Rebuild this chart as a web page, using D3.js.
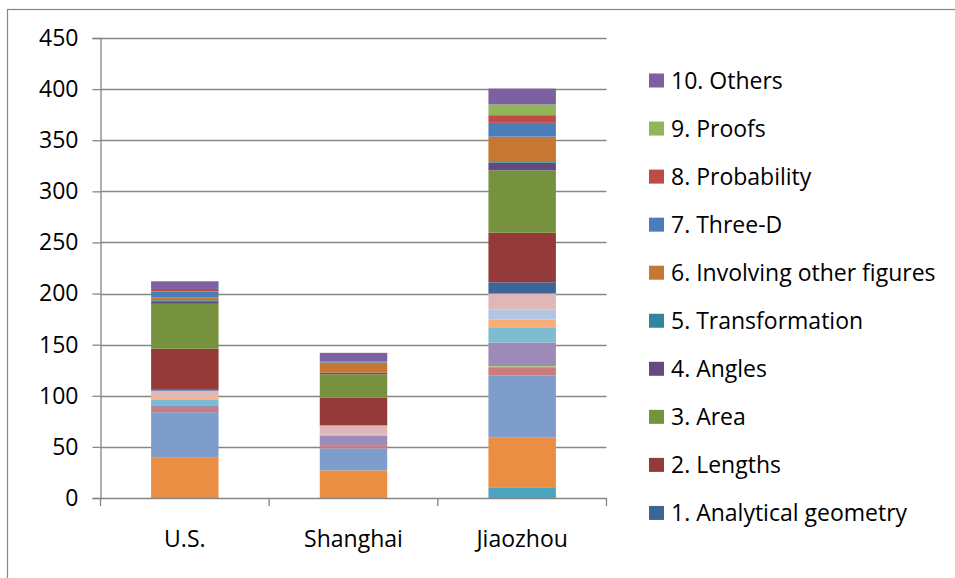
<!DOCTYPE html>
<html>
<head>
<meta charset="utf-8">
<script src="https://cdn.jsdelivr.net/npm/d3@7"></script>
<style>
  html, body { margin: 0; padding: 0; background: #fff; }
  svg { display: block; }
  text { font-family: "Open Sans", "Liberation Sans", sans-serif; fill: #000; }
</style>
</head>
<body>
<svg id="chart" width="955" height="578"></svg>
<script>
// ---------- data ----------
const categories = ["U.S.", "Shanghai", "Jiaozhou"];
const topics = [
  "1. Analytical geometry", "2. Lengths", "3. Area", "4. Angles",
  "5. Transformation", "6. Involving other figures", "7. Three-D",
  "8. Probability", "9. Proofs", "10. Others"
];
// first (lower) block of series, one row per topic: [U.S., Shanghai, Jiaozhou]
const lowerValues = [
  [0, 0, 10.5],
  [40, 27, 48.5],
  [44, 21.5, 61],
  [4, 2.5, 8],
  [0, 0, 1],
  [2, 10, 23],
  [6, 1, 15],
  [2, 0, 7.5],
  [0, 0, 10],
  [7, 9, 15.5]
];
// second (upper) block of series, shown in the legend
const upperValues = [
  [1.5, 0, 11],
  [39.5, 27, 48.5],
  [44, 23, 61],
  [2.5, 1.5, 7.5],
  [1, 0, 1.5],
  [2.5, 10, 24],
  [6, 1, 13.5],
  [2.5, 0, 7.5],
  [0, 0, 10.5],
  [7.5, 8.5, 15.5]
];
const lowerColors = ["#4BA5C0", "#EA8E44", "#7F9DCB", "#C97C7A", "#AFC97A",
                     "#9D8AB8", "#7DBCD1", "#F8AC78", "#B3C5E1", "#DFB7B6"];
const upperColors = ["#3D6597", "#943B39", "#77923F", "#624B7D", "#31859C",
                     "#C67733", "#4A7EBB", "#BE4B48", "#93B55A", "#7D60A0"];
const yTicks = [0, 50, 100, 150, 200, 250, 300, 350, 400, 450];

// ---------- build series ----------
const seriesKeys = [];
const seriesColor = {};
const rows = categories.map((c, ci) => {
  const r = { category: c };
  lowerValues.forEach((v, ti) => { r["a" + ti] = v[ci]; });
  upperValues.forEach((v, ti) => { r["b" + ti] = v[ci]; });
  return r;
});
lowerValues.forEach((v, ti) => { seriesKeys.push("a" + ti); seriesColor["a" + ti] = lowerColors[ti]; });
upperValues.forEach((v, ti) => { seriesKeys.push("b" + ti); seriesColor["b" + ti] = upperColors[ti]; });

const stacked = d3.stack().keys(seriesKeys)(rows);

// ---------- layout ----------
const svg = d3.select("#chart");
const plot = { left: 100.5, right: 606.5, top: 38, bottom: 498 };
const grey = "#868686";
const fs = 23;

// outer frame
svg.append("rect")
  .attr("x", 7.5).attr("y", 9.5).attr("width", 1000).attr("height", 700)
  .attr("fill", "none").attr("stroke", grey).attr("stroke-width", 1.2);

const x = d3.scaleBand().domain(categories).range([plot.left, plot.right]).padding(0);
const y = d3.scaleLinear().domain([0, 450]).range([plot.bottom, plot.top]);

// gridlines
svg.append("g").selectAll("line").data(yTicks.filter(t => t > 0)).join("line")
  .attr("x1", plot.left).attr("x2", plot.right)
  .attr("y1", d => Math.round(y(d)) + 0.5).attr("y2", d => Math.round(y(d)) + 0.5)
  .attr("stroke", grey).attr("stroke-width", 1.3);

// bars
const barW = x.bandwidth() * 0.4;
svg.append("g").selectAll("g").data(stacked).join("g")
  .attr("fill", d => seriesColor[d.key])
  .selectAll("rect").data(d => d).join("rect")
  .attr("x", d => x(d.data.category) + (x.bandwidth() - barW) / 2)
  .attr("width", barW)
  .attr("y", d => y(d[1]))
  .attr("height", d => Math.max(0, y(d[0]) - y(d[1])));

// y axis
const yAxis = d3.axisLeft(y).tickValues(yTicks).tickSize(8).tickPadding(14);
const gy = svg.append("g").attr("transform", `translate(${plot.left},0)`).call(yAxis);
gy.select(".domain").attr("stroke", grey).attr("stroke-width", 1.3);
gy.selectAll(".tick line").attr("stroke", grey).attr("stroke-width", 1.3);
gy.selectAll(".tick text").attr("font-size", fs).attr("font-family", "Open Sans").attr("fill", "#000");

// x axis
const xAxis = d3.axisBottom(x).tickSize(0).tickPadding(33);
const gx = svg.append("g").attr("transform", `translate(0,${plot.bottom})`).call(xAxis);
gx.select(".domain").attr("stroke", grey).attr("stroke-width", 1.3);
gx.selectAll(".tick text").attr("font-size", fs).attr("font-family", "Open Sans").attr("fill", "#000");
// category boundary tick marks
const bounds = categories.map(c => x(c)).concat([x(categories[categories.length - 1]) + x.bandwidth()]);
svg.append("g").selectAll("line").data(bounds).join("line")
  .attr("x1", d => d).attr("x2", d => d)
  .attr("y1", plot.bottom).attr("y2", plot.bottom + 8)
  .attr("stroke", grey).attr("stroke-width", 1.3);

// legend (upper block, reversed)
const legendItems = topics.map((t, i) => ({ name: t, color: upperColors[i] })).reverse();
const lg = svg.append("g").selectAll("g").data(legendItems).join("g")
  .attr("transform", (d, i) => `translate(649, ${80.5 + i * 48.05})`);
lg.append("rect").attr("x", 0).attr("y", -7).attr("width", 15).attr("height", 14)
  .attr("fill", d => d.color);
lg.append("text").attr("x", 22).attr("y", 0).attr("dy", "0.35em")
  .attr("font-size", fs).text(d => d.name);
</script>
</body>
</html>
